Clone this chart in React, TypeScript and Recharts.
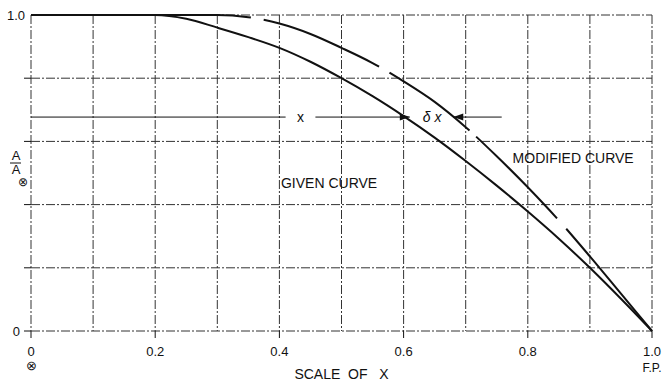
import React from 'react';
import { LineChart, Line, XAxis, YAxis, CartesianGrid, ReferenceLine, ReferenceDot } from 'recharts';

// fraction of length from midships (0) to F.P. (1.0)
const X_VALUES = [0, 0.1, 0.2, 0.25, 0.3, 0.35, 0.4, 0.45, 0.5, 0.55, 0.6, 0.65, 0.7, 0.75, 0.8, 0.85, 0.9, 0.95, 1.0];
const GIVEN = [1, 1, 1, 0.988, 0.96, 0.93, 0.896, 0.852, 0.8, 0.743, 0.68, 0.612, 0.538, 0.46, 0.378, 0.292, 0.2, 0.102, 0];
const MODIFIED = [1, 1, 1, 1, 1, 0.993, 0.973, 0.94, 0.896, 0.848, 0.79, 0.725, 0.645, 0.553, 0.455, 0.35, 0.236, 0.118, 0];

const X_TICKS = [0, 0.1, 0.2, 0.3, 0.4, 0.5, 0.6, 0.7, 0.8, 0.9, 1.0];
const X_LABELS: Record<string, [string, string]> = {
  '0': ['0', '\u2297'],
  '0.2': ['0.2', ''],
  '0.4': ['0.4', ''],
  '0.6': ['0.6', ''],
  '0.8': ['0.8', ''],
  '1': ['1.0', 'F.P.'],
};
const Y_TICKS = [0, 0.2, 0.4, 0.6, 0.8, 1.0];
const Y_LABELS: Record<string, string> = { '0': '0', '1': '1.0' };

// the "x / δx" construction line
const ARROW_Y = 0.677;
const ARROW_SEGMENTS = [[0, 0.41], [0.458, 0.61], [0.68, 0.758]];
const GIVEN_TIP = 0.61;
const MODIFIED_TIP = 0.68;
const X_LABEL_AT = 0.434;
const DX_LABEL_AT = 0.646;

const CURVE_LABELS = [
  { x: 0.48, y: 0.468, text: 'GIVEN CURVE' },
  { x: 0.873, y: 0.547, text: 'MODIFIED CURVE' },
];

const data = X_VALUES.map((x, i) => ({ x, given: GIVEN[i], modified: MODIFIED[i] }));

const FONT = '"Liberation Sans", Arial, sans-serif';
const INK = '#111';

const XTick = (props: any) => {
  const { x, y, payload } = props;
  const lbl = X_LABELS[String(payload.value)];
  if (!lbl) return null;
  const isSym = lbl[1] === '\u2297';
  return (
    <g>
      <line x1={x} y1={y} x2={x} y2={y + 7} stroke={INK} strokeWidth={1} />
      <text x={x} y={y + 25} textAnchor="middle" fontSize={13} fill={INK} fontFamily={FONT}>{lbl[0]}</text>
      {lbl[1] && (
        <text x={x} y={isSym ? y + 39 : y + 41} textAnchor="middle" fontSize={isSym ? 13 : 12} fill={INK} fontFamily={FONT}>{lbl[1]}</text>
      )}
    </g>
  );
};

const YTick = (props: any) => {
  const { x, y, payload } = props;
  const lbl = Y_LABELS[String(payload.value)];
  return (
    <g>
      {payload.value < 1 && <line x1={x - 7} y1={y} x2={x} y2={y} stroke={INK} strokeWidth={1} />}
      {lbl && (
        <text x={payload.value === 0 ? x - 11 : x - 6} y={y} dy={5} textAnchor="end" fontSize={13} fill={INK} fontFamily={FONT}>{lbl}</text>
      )}
    </g>
  );
};

const YLabel = (props: any) => {
  const { viewBox } = props;
  const cx = viewBox.x + 16;
  const cy = viewBox.y + viewBox.height / 2;
  return (
    <g fill={INK} fontFamily={FONT} fontSize={13}>
      <text x={cx} y={cy - 13} textAnchor="middle">A</text>
      <line x1={cx - 6} y1={cy - 10} x2={cx + 5} y2={cy - 10} stroke={INK} strokeWidth={1} />
      <text x={cx} y={cy + 1} textAnchor="middle">A</text>
      <text x={cx + 2} y={cy + 13} fontSize={12}>{'\u2297'}</text>
    </g>
  );
};

const XLabel = (props: any) => {
  const { viewBox } = props;
  return (
    <text x={viewBox.x + viewBox.width / 2} y={viewBox.y + 48} textAnchor="middle" fontSize={14} fill={INK} fontFamily={FONT} style={{ whiteSpace: 'pre' }}>
      {'SCALE  OF   X'}
    </text>
  );
};

const arrowHead = (dir: number) => (p: any) => (
  <path d={`M${p.cx},${p.cy} L${p.cx - dir * 10},${p.cy - 3.5} L${p.cx - dir * 10},${p.cy + 3.5} Z`} fill={INK} />
);

const textShape = (text: string, size: number, italic = false) => (p: any) => (
  <text x={p.cx} y={p.cy} dy={5} textAnchor="middle" fontSize={size} fill={INK} fontFamily={FONT} fontStyle={italic ? 'italic' : 'normal'}>{text}</text>
);

export default function App() {
  return (
    <div style={{ position: 'absolute', left: 0, top: 0, width: 662, height: 383, background: '#fff' }}>
      <LineChart width={662} height={383} data={data} margin={{ top: 15, right: 10, bottom: 0, left: 0 }}>
        <CartesianGrid stroke="#333" strokeWidth={1} strokeDasharray="9 2 2 2" />
        <XAxis
          type="number"
          dataKey="x"
          domain={[0, 1]}
          ticks={X_TICKS}
          interval={0}
          tickSize={0}
          tickMargin={0}
          axisLine={false}
          tickLine={false}
          height={52}
          tick={<XTick />}
          label={<XLabel />}
        />
        <YAxis
          type="number"
          domain={[0, 1]}
          ticks={Y_TICKS}
          interval={0}
          tickSize={0}
          tickMargin={0}
          axisLine={false}
          tickLine={false}
          width={31}
          tick={<YTick />}
          label={<YLabel />}
        />
        {ARROW_SEGMENTS.map(([a, b], i) => (
          <ReferenceLine key={i} segment={[{ x: a, y: ARROW_Y }, { x: b, y: ARROW_Y }]} stroke={INK} strokeWidth={1} />
        ))}
        <Line type="monotone" dataKey="given" stroke={INK} strokeWidth={2} dot={false} isAnimationActive={false} />
        <Line
          type="monotone"
          dataKey="modified"
          stroke={INK}
          strokeWidth={2}
          strokeDasharray="220 13 125 12 99 9 115 14 400"
          dot={false}
          isAnimationActive={false}
        />
        <ReferenceDot x={GIVEN_TIP} y={ARROW_Y} shape={arrowHead(1)} />
        <ReferenceDot x={MODIFIED_TIP} y={ARROW_Y} shape={arrowHead(-1)} />
        <ReferenceDot x={X_LABEL_AT} y={ARROW_Y} shape={textShape('x', 14)} />
        <ReferenceDot x={DX_LABEL_AT} y={ARROW_Y} shape={textShape('\u03b4 x', 14, true)} />
        {CURVE_LABELS.map((c) => (
          <ReferenceDot key={c.text} x={c.x} y={c.y} shape={textShape(c.text, 14)} />
        ))}
      </LineChart>
    </div>
  );
}
